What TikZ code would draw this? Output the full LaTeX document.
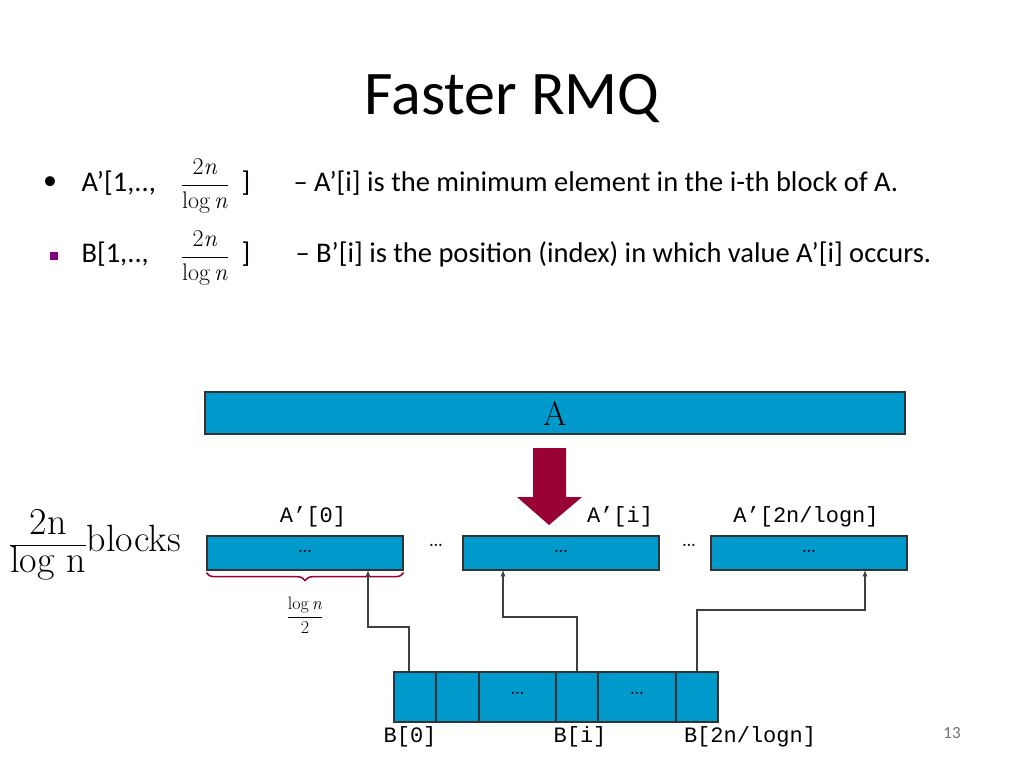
\documentclass[tikz,border=0pt]{standalone}
\usepackage{fontspec}
\setmainfont{Carlito}
\newfontfamily\serifrm{Latin Modern Roman}
\setmonofont{Liberation Mono}
\usetikzlibrary{decorations.pathreplacing}
\definecolor{cellblue}{RGB}{0,153,204}
\definecolor{darkred}{RGB}{153,0,51}
\definecolor{bulletpurple}{RGB}{128,0,128}
\newcommand{\lgfrac}[2]{\ensuremath{\displaystyle\frac{\mbox{\serifrm #1}}{\mbox{\serifrm #2}}}}
\tikzset{
  cell/.style={draw=black!80, fill=cellblue, line width=1.3pt, inner sep=0pt},
  tt/.style={font=\fontsize{22}{26}\selectfont\ttfamily},
  body/.style={font=\fontsize{28.5}{32}\selectfont, anchor=west},
  dots/.style={font=\fontsize{27}{27}\selectfont\serifrm},
  link/.style={draw=black!75, line width=1.2pt, -{latex[scale=1.4]}},
}
\begin{document}
\begin{tikzpicture}[x=1pt, y=-1pt]
  \useasboundingbox (0,0) rectangle (1024,768);
  % title and bullets
  \node (title) at (512,98) {\fontsize{62}{66}\selectfont Faster RMQ};
  \node (dot) at (50,183) {\fontsize{28}{30}\selectfont\textbullet};
  \node[body] (ap) at (78,183) {A’[1,..,};
  \node (apfrac) at (205,186) {\fontsize{24}{28}\selectfont\lgfrac{2\textit{n}}{log\,\textit{n}}};
  \node (apbr) at (246,183) {\fontsize{28.5}{32}\selectfont ]};
  \node[body] (aptext) at (290,183) {– A’[i] is the minimum element in the i-th block of A.};
  \fill[bulletpurple] (50,252) rectangle (58,260);
  \node[body] (b) at (78,254) {B[1,..,};
  \node (bfrac) at (205,258) {\fontsize{24}{28}\selectfont\lgfrac{2\textit{n}}{log\,\textit{n}}};
  \node (bbr) at (246,254) {\fontsize{28.5}{32}\selectfont ]};
  \node[body] (btext) at (292,254) {– B’[i] is the position (index) in which value A’[i] occurs.};
  % array A and arrow
  \node[cell, minimum width=700, minimum height=42] (A) at (555,413) {\fontsize{34}{38}\selectfont\serifrm A};
  \fill[darkred] (533,448) -- (566,448) -- (566,497) -- (582,497) -- (549,525)
    -- (517,497) -- (533,497) -- cycle;
  % blocks of A'
  \foreach \n/\x in {blk0/305, blki/561, blkn/809}
    \node[cell, minimum width=196, minimum height=34] (\n) at (\x,553) {};
  \foreach \n in {blk0, blki, blkn}
    \node[dots] at ([yshift=2]\n.center) {\dots};
  \node[dots] (gap1) at (436,545) {\dots};
  \node[dots] (gap2) at (689,545) {\dots};
  \node[tt] (l0) at (313,517) {A’[0]};
  \node[tt] (li) at (620,517) {A’[i]};
  \node[tt] (ln) at (806,517) {A’[2n/logn]};
  \draw[darkred, line width=1.5pt, decorate, decoration={brace, amplitude=8pt, mirror}]
    ([yshift=-2]blk0.south west) -- ([yshift=-2]blk0.south east);
  \node (half) at (305,615) {\fontsize{18}{20}\selectfont\lgfrac{log\,\textit{n}}{2}};
  \node (blocks) at (95,545) {\fontsize{38}{42}\selectfont\serifrm
    \lgfrac{2n}{log n}blocks};
  % array B
  \foreach \n/\a/\b in {b0/394/436, b1/436/479, b2/479/556, b3/556/598, b4/598/676, b5/676/718}
    \node[cell, minimum width=\b-\a, minimum height=50] (\n) at ({(\a+\b)/2},697) {};
  \node[dots] at ([yshift=4]b2.center) {\dots};
  \node[dots] at ([yshift=4]b4.center) {\dots};
  \node[tt] (bl0) at (410,737) {B[0]};
  \node[tt] (bli) at (580,737) {B[i]};
  \node[tt] (bln) at (750,737) {B[2n/logn]};
  % pointers
  \coordinate (t0) at (368,570);
  \coordinate (ti) at (503,570);
  \coordinate (tn) at (865,570);
  \draw[link] ([xshift=-6]b0.north) |- (368,627) -- (t0);
  \draw[link] (b3.north) |- (503,617) -- (ti);
  \draw[link] (b5.north) |- (865,610) -- (tn);
  \node[text=black!55] (page) at (952,733) {\fontsize{17}{20}\selectfont 13};
\end{tikzpicture}
\end{document}
